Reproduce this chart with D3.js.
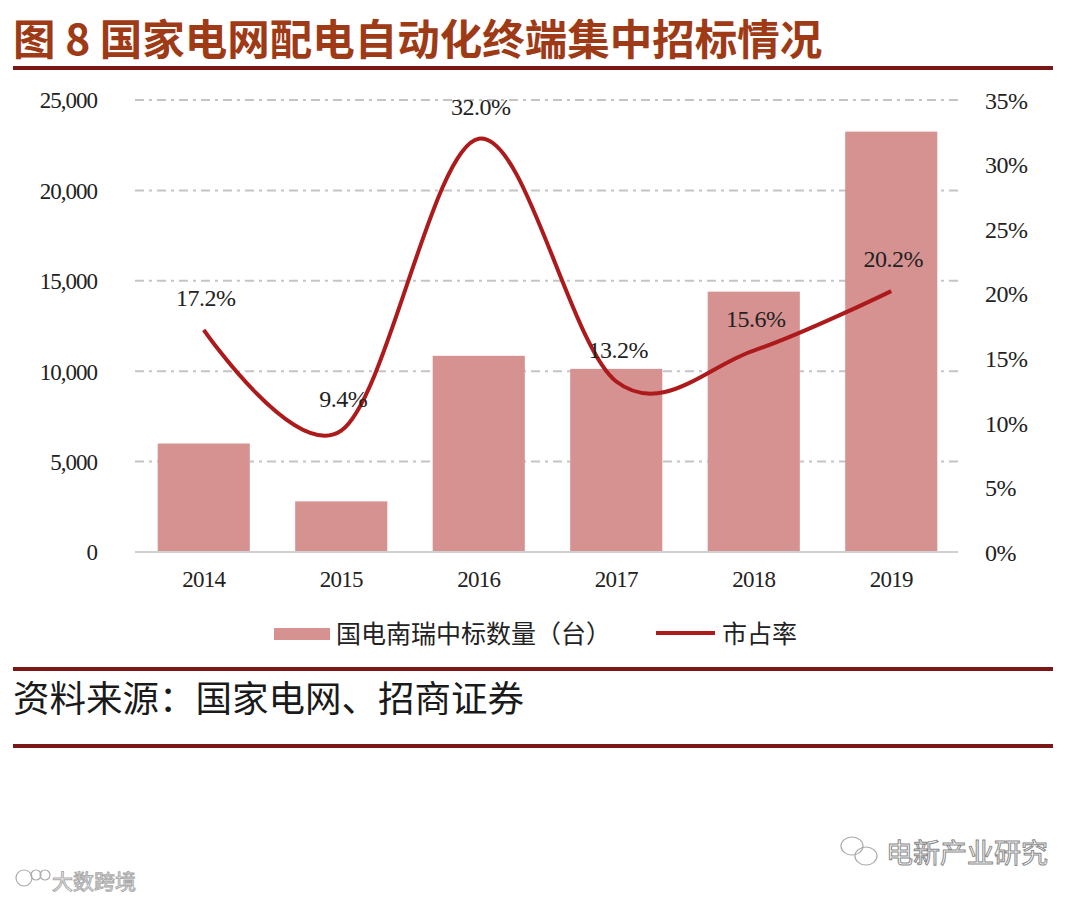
<!DOCTYPE html>
<html><head><meta charset="utf-8">
<script src="https://cdn.jsdelivr.net/npm/d3@7/dist/d3.min.js"></script>
<style>
html,body{margin:0;padding:0;background:#fff;}
svg{display:block;}
</style></head>
<body>
<svg id="chart" width="1080" height="901"></svg>
<script>
const years = ["2014","2015","2016","2017","2018","2019"];
const winCounts = [6000, 2800, 10850, 10130, 14400, 23250];
const shareRates = [0.172, 0.094, 0.320, 0.132, 0.156, 0.202];
const leftTicks = [0, 5000, 10000, 15000, 20000, 25000];
const rightTicks = [0, 0.05, 0.10, 0.15, 0.20, 0.25, 0.30, 0.35];
const titleText = "图 8 国家电网配电自动化终端集中招标情况";
const legendBar = "国电南瑞中标数量（台）";
const legendLine = "市占率";
const sourceText = "资料来源：国家电网、招商证券";

const svg = d3.select("#chart");
const serif = "'Liberation Serif','DejaVu Serif',serif";
const cjk = "'Noto Sans CJK SC','Noto Sans',sans-serif";

// Title
svg.append("text").attr("x", 13).attr("y", 55)
  .attr("font-family", cjk).attr("font-weight", "bold").attr("font-size", 42.5)
  .attr("fill", "#9e3a16").text(titleText);
svg.append("rect").attr("x", 13).attr("y", 66).attr("width", 1040).attr("height", 4).attr("fill", "#7a1717");

const x = d3.scaleBand().domain(years).range([135, 960]).paddingInner(0.33).paddingOuter(0.165);
const yL = d3.scaleLinear().domain([0, 25000]).range([552, 100]);
const yR = d3.scaleLinear().domain([0, 0.35]).range([552, 100]);

// gridlines
svg.append("g").selectAll("line").data(leftTicks.filter(d => d > 0)).join("line")
  .attr("x1", 135).attr("x2", 958)
  .attr("y1", d => yL(d)).attr("y2", d => yL(d))
  .attr("stroke", "#c4c4c4").attr("stroke-width", 2)
  .attr("stroke-dasharray", "9,5,3,5");

// bars
svg.append("g").selectAll("rect").data(years).join("rect")
  .attr("x", d => x(d)).attr("width", x.bandwidth())
  .attr("y", (d, i) => yL(winCounts[i]))
  .attr("height", (d, i) => yL(0) - yL(winCounts[i]))
  .attr("fill", "#d69191");

// baseline
svg.append("line").attr("x1", 135).attr("x2", 958).attr("y1", 552).attr("y2", 552)
  .attr("stroke", "#d0d0d0").attr("stroke-width", 2);

// left axis
const axL = d3.axisLeft(yL).tickValues(leftTicks).tickSize(0).tickPadding(0)
  .tickFormat(d3.format(","));
const gL = svg.append("g").attr("transform", "translate(97,0)").call(axL);
gL.select(".domain").remove();
gL.selectAll("text").attr("font-family", serif).attr("font-size", 23).attr("fill", "#222")
  .attr("letter-spacing", "-1px").attr("dy", "0.34em");

// right axis
const axR = d3.axisRight(yR).tickValues(rightTicks).tickSize(0).tickPadding(0)
  .tickFormat(d3.format(".0%"));
const gR = svg.append("g").attr("transform", "translate(985,0)").call(axR);
gR.select(".domain").remove();
gR.selectAll("text").attr("font-family", serif).attr("font-size", 24).attr("fill", "#222")
  .attr("letter-spacing", "-0.5px").attr("dy", "0.34em");

// bottom axis
const axB = d3.axisBottom(x).tickSize(0).tickPadding(0);
const gB = svg.append("g").attr("transform", "translate(0,571)").call(axB);
gB.select(".domain").remove();
gB.selectAll("text").attr("font-family", serif).attr("font-size", 23).attr("fill", "#222")
  .attr("letter-spacing", "-0.8px").attr("dy", "0.7em");

// line
const line = d3.line()
  .x((d, i) => x(years[i]) + x.bandwidth() / 2)
  .y(d => yR(d))
  .curve(d3.curveCardinal.tension(0));
svg.append("path").datum(shareRates).attr("d", line)
  .attr("fill", "none").attr("stroke", "#ad1a1c").attr("stroke-width", 4);

// data labels
svg.append("g").selectAll("text").data(shareRates).join("text")
  .attr("x", (d, i) => x(years[i]) + x.bandwidth() / 2 + 2)
  .attr("y", d => yR(d) - 32)
  .attr("dy", "0.34em")
  .attr("text-anchor", "middle")
  .attr("font-family", serif).attr("font-size", 24).attr("fill", "#222")
  .attr("letter-spacing", "-0.5px")
  .text(d => d3.format(".1%")(d));

// legend
const lg = svg.append("g");
lg.append("rect").attr("x", 274).attr("y", 628).attr("width", 56).attr("height", 12).attr("fill", "#d69191");
lg.append("text").attr("x", 336).attr("y", 634).attr("dy", "0.36em")
  .attr("font-family", cjk).attr("font-size", 25).attr("fill", "#222").text(legendBar);
lg.append("line").attr("x1", 656).attr("x2", 715).attr("y1", 633).attr("y2", 633)
  .attr("stroke", "#ad1a1c").attr("stroke-width", 4);
lg.append("text").attr("x", 722).attr("y", 634).attr("dy", "0.36em")
  .attr("font-family", cjk).attr("font-size", 25).attr("fill", "#222").text(legendLine);

// source block
svg.append("rect").attr("x", 13).attr("y", 667).attr("width", 1040).attr("height", 4).attr("fill", "#7a1717");
svg.append("text").attr("x", 13).attr("y", 699).attr("dy", "0.36em")
  .attr("font-family", cjk).attr("font-size", 36.5).attr("fill", "#1a1a1a").text(sourceText);
svg.append("rect").attr("x", 13).attr("y", 744).attr("width", 1040).attr("height", 4).attr("fill", "#7a1717");

// watermarks
const wm = svg.append("g").attr("fill", "none").attr("stroke", "#aaa").attr("stroke-width", 1.2);
wm.append("ellipse").attr("cx", 852).attr("cy", 846).attr("rx", 11).attr("ry", 9);
wm.append("ellipse").attr("cx", 866).attr("cy", 856).attr("rx", 11).attr("ry", 9);
svg.append("text").attr("x", 886).attr("y", 853).attr("dy", "0.36em")
  .attr("font-family", cjk).attr("font-size", 27).attr("fill", "#fff")
  .attr("stroke", "#888").attr("stroke-width", 1).text("电新产业研究");
wm.append("circle").attr("cx", 24).attr("cy", 878).attr("r", 8);
wm.append("circle").attr("cx", 36).attr("cy", 875).attr("r", 5);
wm.append("circle").attr("cx", 45).attr("cy", 875).attr("r", 5);
svg.append("text").attr("x", 52).attr("y", 881).attr("dy", "0.36em")
  .attr("font-family", cjk).attr("font-size", 21).attr("fill", "#fff")
  .attr("stroke", "#aaa").attr("stroke-width", 1).text("大数跨境");
</script>
</body></html>
